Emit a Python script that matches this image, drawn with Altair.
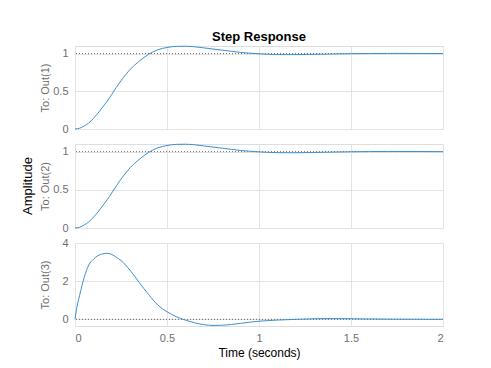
import altair as alt
import pandas as pd

# ---- data ----
time_12 = [0, 0.025, 0.05, 0.075, 0.1, 0.125, 0.15, 0.175, 0.2, 0.25, 0.3, 0.35, 0.4, 0.45,
           0.5, 0.55, 0.6, 0.65, 0.7, 0.75, 0.8, 0.85, 0.9, 0.95, 1.0, 1.05, 1.1, 1.15, 1.2,
           1.3, 1.4, 1.5, 1.6, 1.7, 1.8, 1.9, 2.0]
out1 = [0, 0.01, 0.04, 0.08, 0.14, 0.21, 0.29, 0.37, 0.46, 0.64, 0.79, 0.90, 0.99, 1.05,
        1.08, 1.095, 1.097, 1.09, 1.075, 1.06, 1.045, 1.03, 1.015, 1.005, 0.997, 0.99, 0.987,
        0.986, 0.986, 0.989, 0.994, 0.998, 1.001, 1.002, 1.002, 1.001, 1.0]
out2 = [0, 0.01, 0.04, 0.08, 0.14, 0.21, 0.29, 0.37, 0.46, 0.64, 0.79, 0.90, 0.99, 1.05,
        1.08, 1.095, 1.097, 1.09, 1.075, 1.06, 1.045, 1.03, 1.015, 1.005, 0.997, 0.99, 0.987,
        0.986, 0.986, 0.989, 0.994, 0.998, 1.001, 1.002, 1.002, 1.001, 1.0]
time_3 = [0, 0.01, 0.025, 0.05, 0.075, 0.1, 0.125, 0.15, 0.175, 0.2, 0.225, 0.25, 0.3, 0.35,
          0.4, 0.45, 0.5, 0.55, 0.6, 0.65, 0.7, 0.75, 0.8, 0.85, 0.9, 0.95, 1.0, 1.1, 1.2,
          1.3, 1.4, 1.5, 1.6, 1.7, 1.8, 2.0]
out3 = [0, 0.62, 1.25, 2.2, 2.85, 3.15, 3.34, 3.43, 3.46, 3.40, 3.25, 3.08, 2.56, 1.92,
        1.30, 0.75, 0.40, 0.14, -0.04, -0.18, -0.28, -0.32, -0.31, -0.27, -0.21, -0.15,
        -0.10, -0.04, 0.0, 0.03, 0.04, 0.03, 0.02, 0.01, 0.005, 0]

x_ticks = [0, 0.5, 1, 1.5, 2]
y_ticks_12 = [0, 0.5, 1]
y_ticks_3 = [0, 2, 4]
steady_values = [1, 1, 0]
output_labels = ["To: Out(1)", "To: Out(2)", "To: Out(3)"]
y_domains = [[0, 1.1], [0, 1.1], [-0.35, 4]]

FONT = "Liberation Sans"
GRAY = "#6e6e6e"
W = 368


def panel(t, y, i, yticks, height, show_x, extra=None):
    df = pd.DataFrame({"t": t, "y": y})
    xaxis = alt.Axis(values=x_ticks, format="~g", grid=True, gridColor="#e3e3e3",
                     domain=False, ticks=False, tickSize=0, labels=show_x,
                     labelPadding=6, labelFontSize=11, labelColor=GRAY, labelFont=FONT,
                     titleFont=FONT, titleFontSize=12, titleFontWeight="normal",
                     titleColor="black", titleX=W / 2, titleY=30,
                     titleBaseline="alphabetic", titleAlign="center")
    x = alt.X("t:Q", scale=alt.Scale(domain=[0, 2], nice=False, zero=False),
              axis=xaxis, title="Time (seconds)" if show_x else None)
    yaxis = alt.Axis(values=yticks, format="~g", grid=True, gridColor="#e3e3e3",
                     domain=False, ticks=False, tickSize=0, labelPadding=7,
                     labelFontSize=11, labelColor=GRAY, labelFont=FONT,
                     titleFont=FONT, titleFontSize=11, titleFontWeight="normal",
                     titleColor=GRAY, titleX=-30, titleY=height / 2,
                     titleAngle=270, titleBaseline="middle", titleAlign="center")
    yenc = alt.Y("y:Q", scale=alt.Scale(domain=y_domains[i], nice=False, zero=False),
                 axis=yaxis, title=output_labels[i])
    line = alt.Chart(df).mark_line(color="#3d8fd1", strokeWidth=1,
                                   interpolate="monotone").encode(x=x, y=yenc)
    ref = alt.Chart(pd.DataFrame({"y": [steady_values[i]]})).mark_rule(
        color="#444444", strokeWidth=0.8, strokeDash=[1, 2]).encode(y=alt.Y("y:Q"))
    layers = [ref, line]
    if extra is not None:
        layers.append(extra)
    return alt.layer(*layers).properties(width=W, height=height)


amp = alt.Chart(pd.DataFrame({"label": ["Amplitude"]})).mark_text(
    angle=270, font=FONT, fontSize=13, color="black", baseline="middle", align="center"
).encode(text="label:N", x=alt.value(-47), y=alt.value(42))

p1 = panel(time_12, out1, 0, y_ticks_12, 83, False).properties(
    title=alt.TitleParams("Step Response", font=FONT, fontSize=13, fontWeight="bold",
                          color="black", anchor="middle", offset=0))
p2 = panel(time_12, out2, 1, y_ticks_12, 84, False, extra=amp)
p3 = panel(time_3, out3, 2, y_ticks_3, 83, True)

chart = alt.vconcat(p1, p2, p3, spacing=15, bounds="flush").properties(
    padding={"left": 13, "top": 22, "right": 5, "bottom": 5}
).configure_view(stroke="#a0a0a0", strokeWidth=1).configure(background="white")

chart.save("out.html", embed_options={"renderer": "svg", "actions": False})
